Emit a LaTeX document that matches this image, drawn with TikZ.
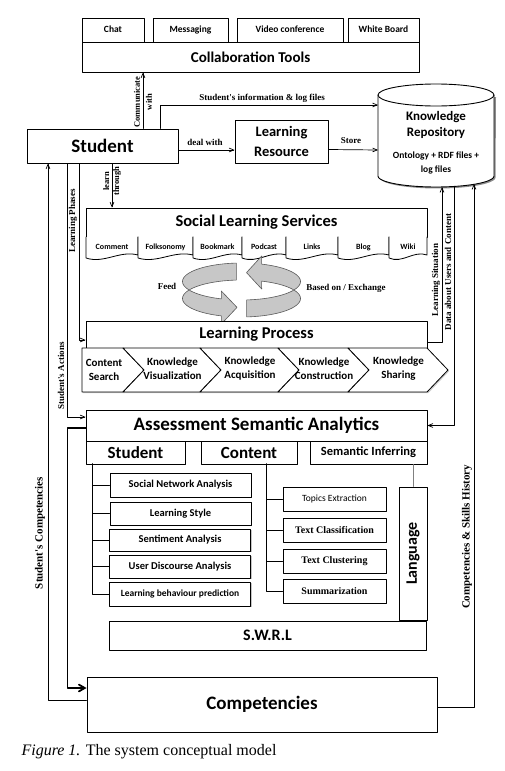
\documentclass[tikz,border=0pt]{standalone}
\usepackage{fontspec}
\setmainfont{Carlito}
\newfontfamily\tms{Liberation Serif}
\usetikzlibrary{arrows,shadows}

\tikzset{
  box/.style={draw, fill=white, line width=0.9pt, inner sep=0pt, align=center},
  shbox/.style={box, drop shadow={shadow xshift=1.3pt, shadow yshift=-1.3pt, fill=black!45}},
  toolbox/.style={box, minimum height=24pt, text height=7pt, text depth=2pt, font=\bfseries\fontsize{9.5}{11}\selectfont},
  lbl/.style={font=\tms\bfseries\fontsize{9}{10.5}\selectfont, inner sep=1pt, align=center},
  arr/.style={->, line width=0.7pt},
  bigarr/.style={->, >=angle 60, line width=1.8pt},
  tabbox/.style={draw, fill=white, line width=0.8pt},
  chev/.style={draw, fill=white, line width=0.8pt, drop shadow={shadow xshift=1.2pt, shadow yshift=-1.2pt, fill=black!40}},
  ring/.style={draw=black!65, fill=black!22, line width=0.6pt},
  subitem/.style={shbox, minimum width=141pt, font=\bfseries\fontsize{10.5}{12}\selectfont},
  conitem/.style={shbox, minimum width=103pt, minimum height=24pt, font=\tms\bfseries\fontsize{10}{12}\selectfont}
}

\begin{document}
\begin{tikzpicture}[x=1pt,y=-1pt,line cap=round,line join=round,>=angle 45]
\useasboundingbox (0,0) rectangle (504,771);

% collaboration tools
\node[toolbox, minimum width=62pt] (chat) at (113,30) {Chat};
\node[toolbox, minimum width=75pt] (msg) at (190.5,30) {Messaging};
\node[toolbox, minimum width=106pt] (video) at (290,30) {Video conference};
\node[toolbox, minimum width=71pt] (wboard) at (383.5,30) {White Board};
\node[shbox, minimum width=337pt, minimum height=30pt, font=\bfseries\fontsize{15}{18}\selectfont] (collab) at (250.5,57) {Collaboration Tools};

% student, resource, repository
\node[shbox, minimum width=151pt, minimum height=34pt, font=\bfseries\fontsize{19}{22}\selectfont] (stu) at (102.5,146) {Student};
\node[shbox, minimum width=93pt, minimum height=43pt, font=\bfseries\fontsize{14.5}{20}\selectfont] (lres) at (281.5,141.5) {Learning\\Resource};

\fill[black!45] (380,97) -- (380,178) -- plot[domain=180:360,samples=40] ({437.5+58*cos(\x)},{177.5-11*sin(\x)}) -- (496,97) -- cycle;
\draw[box] (378,95) -- (378,176) -- plot[domain=180:360,samples=40] ({436+58*cos(\x)},{176-11*sin(\x)}) -- (494,95);
\draw[box] (436,95) ellipse [x radius=58, y radius=11];
\node[align=center, font=\bfseries\fontsize{13}{16}\selectfont] (repo) at (436,125) {Knowledge\\Repository};
\node[align=center, font=\bfseries\fontsize{9.5}{14}\selectfont] (repoinfo) at (436,163) {Ontology + RDF files +\\log files};
\coordinate (repoW1) at (378,105);
\coordinate (repoW2) at (378,150);
\coordinate (repoS1) at (442,187);
\coordinate (repoS2) at (454,187);
\coordinate (repoS3) at (474,184);

\draw[arr] ([xshift=40.5pt]stu.north) -- ([xshift=-107.5pt]collab.south);
\node[lbl, rotate=90, font=\tms\bfseries\fontsize{8.5}{12}\selectfont] (lblcomm) at (143,102) {Communicate\\with};
\draw[arr] ([xshift=57.5pt]stu.north) |- (repoW1);
\node[lbl] (lblinfo) at (262,98) {Student's information \& log files};
\draw[arr] ([yshift=-4pt]stu.east) -- ([yshift=-4pt]stu.east -| lres.west);
\node[lbl] (lbldeal) at (205,142) {deal with};
\draw[arr] ([yshift=-8pt]lres.east) -- (repoW2);
\node[lbl] (lblstore) at (351,141) {Store};

% social learning services
\node[box, minimum width=341pt, minimum height=29pt, font=\bfseries\fontsize{16.5}{19}\selectfont] (sls) at (256.5,222.5) {Social Learning Services};
\foreach \a/\b/\t in {86/138/Comment, 138/193/Folksonomy, 193/242/Bookmark, 242/286/Podcast, 286/338/Links, 338/389/Blog, 389/427/Wiki}{
  \draw[tabbox] (\a,237) -- (\a,258) .. controls ({\a+0.35*(\b-\a)},264) and ({\a+0.65*(\b-\a)},250) .. (\b,255) -- (\b,237);
  \node[font=\bfseries\fontsize{8}{9}\selectfont] (tab-\t) at ({(\a+\b)/2},247) {\t};
}
\draw[arr] ([xshift=9.5pt]stu.south) -- ([xshift=9.5pt]stu.south |- sls.north);
\node[lbl, rotate=90, font=\tms\bfseries\fontsize{8.5}{10}\selectfont] (lbllearn) at (112,181) {learn\\through};

% feed / exchange ring
\draw[ring] plot[domain=-85:70,samples=40] ({241.5+59*cos(\x)},{281.5-18.5*sin(\x)}) -- (261.7,256) -- (246.5,272.6) -- (261.7,289) -- plot[domain=70:-85,samples=40] ({241.5+59*cos(\x)},{298.5-18.5*sin(\x)}) -- cycle;
\draw[ring] plot[domain=95:250,samples=40] ({241.5+59*cos(\x)},{281.5-18.5*sin(\x)}) -- (221.3,291) -- (237,307.4) -- (221.3,324) -- plot[domain=250:95,samples=40] ({241.5+59*cos(\x)},{298.5-18.5*sin(\x)}) -- cycle;
\node[lbl] (lblfeed) at (167,286) {Feed};
\node[lbl] (lblbased) at (346,288) {Based on / Exchange};

% learning process
\node[box, minimum width=341pt, minimum height=27pt, font=\bfseries\fontsize{16.5}{19}\selectfont] (lp) at (256.5,334.5) {Learning Process};
\draw[chev] (82,348) -- (123,348) -- (144,370) -- (123,392) -- (82,392) -- cycle;
\node[align=center, font=\bfseries\fontsize{11}{14}\selectfont] (cs) at (104,370) {Content\\Search};
\foreach \a/\b/\n/\t in {123/200/kv/{Knowledge\\Visualization}, 200/278/ka/{Knowledge\\Acquisition}, 278/348/kc/{Knowledge\\Construction}, 348/427/ks/{Knowledge\\Sharing}}{
  \draw[chev] (\a,348) -- (\b,348) -- ({\b+21},370) -- (\b,392) -- (\a,392) -- ({\a+21},370) -- cycle;
  \node[align=center, font=\bfseries\fontsize{11}{14}\selectfont] (\n) at ({(\a+\b)/2+11},369) {\t};
}
\draw[arr] ([xshift=-23.5pt]stu.south) |- ([yshift=-5.5pt]lp.west);
\node[lbl, rotate=90] (lblphases) at (73,221) {Learning Phases};

% assessment semantic analytics
\node[shbox, minimum width=341pt, minimum height=31pt, font=\bfseries\fontsize{19}{22}\selectfont] (asa) at (256.5,425.5) {Assessment Semantic Analytics};
\node[shbox, minimum width=99pt, minimum height=23pt, font=\bfseries\fontsize{17}{20}\selectfont] (substu) at (135.5,452.5) {Student};
\node[shbox, minimum width=96pt, minimum height=23pt, font=\bfseries\fontsize{17}{20}\selectfont] (subcon) at (249,452.5) {Content};
\node[shbox, minimum width=117pt, minimum height=23pt, font=\bfseries\fontsize{12.5}{15}\selectfont] (subsem) at (368.5,452.5) {Semantic Inferring};
\draw[arr] ([xshift=-35.5pt]stu.south) |- ([yshift=8.5pt]asa.west);
\node[lbl, rotate=90] (lblactions) at (61,376) {Student's Actions};

\node[subitem, minimum height=24pt] (sna) at (180.5,485) {Social Network Analysis};
\node[subitem, minimum height=23pt] (lstyle) at (180.5,513.5) {Learning Style};
\node[subitem, minimum height=22pt] (senti) at (180,540) {Sentiment Analysis};
\node[subitem, minimum height=23pt] (uda) at (180,566.5) {User Discourse Analysis};
\node[subitem, minimum height=24pt, font=\bfseries\fontsize{9.5}{11}\selectfont] (lbp) at (180,594) {Learning behaviour prediction};
\coordinate (stutrunk) at (92,464);
\foreach \n in {sna,lstyle,senti,uda,lbp}
  \draw[line width=0.8pt] (stutrunk) |- (\n.west);

\node[conitem, font=\fontsize{9.5}{11}\selectfont] (topics) at (334.5,499) {Topics Extraction};
\node[conitem] (tclass) at (334.5,530) {Text Classification};
\node[conitem] (tclust) at (334.5,561) {Text Clustering};
\node[conitem] (summ) at (334.5,591) {Summarization};
\coordinate (contrunk) at (266,464);
\foreach \n in {topics,tclass,tclust,summ}
  \draw[line width=0.8pt] (contrunk) |- (\n.west);

\node[shbox, minimum width=28pt, minimum height=133pt] (lang) at (413,553.5) {};
\node[rotate=90, font=\bfseries\fontsize{16}{19}\selectfont] (langtxt) at (lang) {Language};
\draw[black!50, line width=0.6pt] (lang.north |- subsem.south) -- (lang.north);
\node[shbox, minimum width=317pt, minimum height=29pt, font=\bfseries\fontsize{16}{19}\selectfont] (swrl) at (267.5,635.5) {S.W.R.L};

% competencies
\node[shbox, minimum width=350pt, minimum height=55pt, font=\bfseries\fontsize{19}{22}\selectfont] (comp) at (262,704.5) {Competencies};
\draw[bigarr] ([yshift=-2.5pt]asa.west) -- ++(-18,0) |- ([yshift=16.5pt]comp.west);
\draw[arr] ([yshift=4.5pt]comp.west) -| ([xshift=-54.5pt]stu.south);
\node[lbl, rotate=90, font=\tms\bfseries\fontsize{11}{13}\selectfont] (lblstucomp) at (40,533) {Student's Competencies};

% links to the repository
\draw[arr] ([yshift=-7.5pt]lp.east) -| (repoS1);
\node[lbl, rotate=90] (lblsit) at (436,280) {Learning Situation};
\draw[arr] (repoS2) |- (asa.east);
\node[lbl, rotate=90] (lbldata) at (448,272) {Data about Users and Content};
\draw[arr] ([yshift=-2.5pt]comp.east) -| (repoS3);
\node[lbl, rotate=90, font=\tms\bfseries\fontsize{11}{13}\selectfont] (lblhist) at (467,537) {Competencies \& Skills History};

\node[anchor=west, font=\tms\fontsize{16}{18}\selectfont] (caption) at (18,752) {\textit{Figure 1.} The system conceptual model};
\end{tikzpicture}
\end{document}
